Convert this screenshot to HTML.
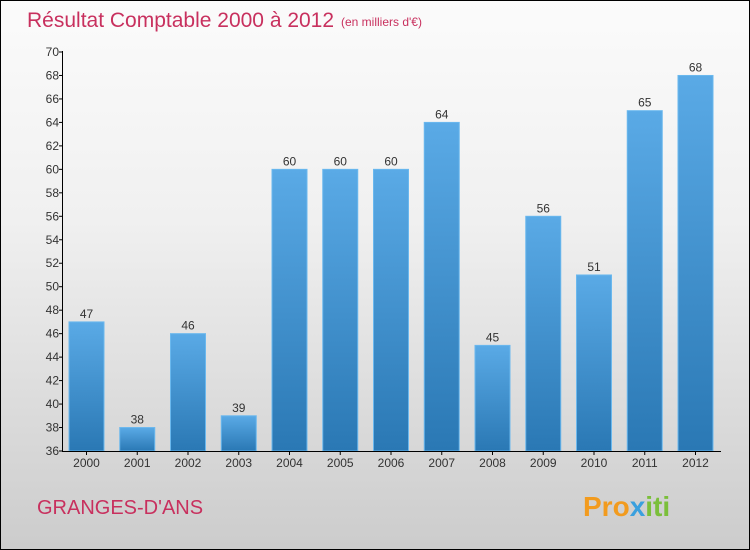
<!DOCTYPE html>
<html><head><meta charset="utf-8"><style>
body{margin:0}
#c{width:748px;height:548px;border:1px solid #000;background:linear-gradient(#fbfbfb,#f0f0f0 40%,#cccccc);position:relative;font-family:"Liberation Sans",sans-serif;overflow:hidden}
</style></head><body>
<div id="c">
<svg width="748" height="548" id="s">
<defs><linearGradient id="g" x1="0" y1="0" x2="0" y2="1"><stop offset="0" stop-color="#5aaae6"/><stop offset="1" stop-color="#2a78b4"/></linearGradient></defs>
<text x="26" y="26" font-size="21" fill="#c8305e">Résultat Comptable 2000 à 2012</text>
<text x="340" y="25" font-size="12" fill="#c8305e">(en milliers d'€)</text>
<text x="36" y="513" font-size="20" fill="#c8305e">GRANGES-D'ANS</text>
<text x="582" y="515" font-size="28" font-weight="bold"><tspan fill="#f29b1e">Pro</tspan><tspan fill="#3aa0de">x</tspan><tspan fill="#7bbf3a">iti</tspan></text>
<g id="plot"></g>
</svg>
</div>
<script>
const categories=["2000","2001","2002","2003","2004","2005","2006","2007","2008","2009","2010","2011","2012"];
const values=[47,38,46,39,60,60,60,64,45,56,51,65,68];
const yTicks=[36,38,40,42,44,46,48,50,52,54,56,58,60,62,64,66,68,70];
const NS="http://www.w3.org/2000/svg";
const g=document.getElementById('plot');
const y=v=>450-(v-36)*(399/34);
const x=i=>85.5+i*50.75;
function el(t,a){const e=document.createElementNS(NS,t);for(const k in a)e.setAttribute(k,a[k]);g.appendChild(e);return e;}
values.forEach((v,i)=>{
 const r=el('rect',{x:x(i)-17.5,y:y(v),width:35,height:450-y(v),fill:'url(#g)',stroke:'#6ab8ee','stroke-width':1});
 
 
 const t=el('text',{x:x(i),y:y(v)-4,'font-size':12,fill:'#333','text-anchor':'middle'});t.textContent=v;
 
 
 const c=el('text',{x:x(i),y:466,'font-size':12,fill:'#333','text-anchor':'middle'});c.textContent=categories[i];
 
 
 el('line',{x1:x(i),x2:x(i),y1:450,y2:454,stroke:'#000'});
});
yTicks.forEach(v=>{
 el('line',{x1:58,x2:62,y1:y(v),y2:y(v),stroke:'#000'});
 const t=el('text',{x:58,y:y(v)+4,'font-size':12,fill:'#333','text-anchor':'end'});t.textContent=v;
 
 
});
const ya=el('line',{x1:61.5,x2:61.5,y1:50,y2:450.5,stroke:'#000'});


const xa=el('line',{x1:61,x2:720,y1:450.5,y2:450.5,stroke:'#000'});


</script>
</body></html>
